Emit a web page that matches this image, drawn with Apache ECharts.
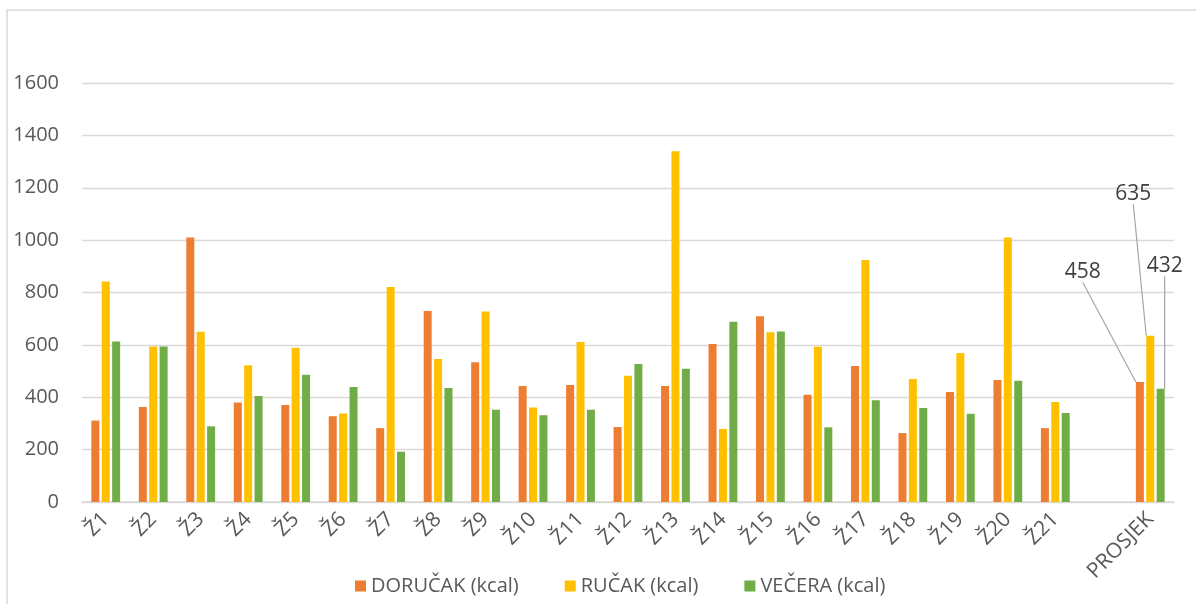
<!DOCTYPE html>
<html>
<head>
<meta charset="utf-8">
<title>Obroci kcal</title>
<script src="https://cdn.jsdelivr.net/npm/echarts@6/dist/echarts.min.js"></script>
<style>
  html, body { margin: 0; padding: 0; background: #fff; }
  #chart { width: 1196px; height: 604px; }
</style>
</head>
<body>
<div id="chart"></div>
<script>
// kategorije (prazno mjesto prije prosjeka)
const categories = ['Ž1', 'Ž2', 'Ž3', 'Ž4', 'Ž5', 'Ž6', 'Ž7', 'Ž8', 'Ž9', 'Ž10', 'Ž11',
  'Ž12', 'Ž13', 'Ž14', 'Ž15', 'Ž16', 'Ž17', 'Ž18', 'Ž19', 'Ž20', 'Ž21', '', 'PROSJEK']

const dorucak = [311, 363, 1010, 380, 370, 327, 282, 729, 534, 443, 447,
  286, 443, 603, 709, 410, 519, 263, 420, 466, 282, null, 458]
const rucak = [842, 594, 650, 522, 589, 338, 821, 546, 727, 361, 611,
  482, 1339, 279, 648, 593, 924, 470, 569, 1010, 382, null, 635]
const vecera = [613, 594, 289, 405, 486, 439, 192, 435, 352, 331, 352,
  527, 509, 688, 651, 285, 389, 359, 337, 463, 340, null, 432]

const seriesNames = ['DORUČAK (kcal)', 'RUČAK (kcal)', 'VEČERA (kcal)']
const colors = ['#ED7D31', '#FFC000', '#70AD47']
const yTicks = { min: 0, max: 1600, interval: 200 }

// pomak oznake prosjeka u odnosu na vrh stupca
const labelOffsets = [[-57, -110], [-17, -142], [4, -123]]

const font = '"Open Sans", "Noto Sans", sans-serif'
const textColor = '#595959'
const gridColor = '#d9d9d9'
const avgIndex = categories.length - 1

const chart = echarts.init(document.getElementById('chart'))

// gradi seriju, oznaka samo na prosjeku
const makeSeries = (name, values, idx) => ({
  name,
  type: 'bar',
  barWidth: 8,
  barGap: '30%',
  itemStyle: { color: colors[idx] },
  data: values.map((v, i) => i === avgIndex
    ? {
        value: v,
        label: {
          show: true,
          position: 'top',
          fontFamily: font,
          fontSize: 21,
          color: '#404040'
        },
        labelLine: { show: true, lineStyle: { color: '#a6a6a6', width: 1.2 } }
      }
    : v),
  labelLayout(p) {
    if (p.dataIndex !== avgIndex) return {}
    const off = labelOffsets[idx]
    return {
      x: p.rect.x + p.rect.width / 2 + off[0],
      y: p.rect.y + off[1],
      align: 'center',
      verticalAlign: 'middle'
    }
  }
})

const option = {
  animation: false,
  textStyle: { fontFamily: font },
  // okvir grafikona
  graphic: [{
    type: 'rect',
    shape: { x: 7, y: 10, width: 1300, height: 700 },
    style: { fill: 'none', stroke: gridColor, lineWidth: 1.5 },
    silent: true
  }],
  legend: {
    data: seriesNames,
    left: 350,
    top: 571,
    icon: 'rect',
    itemWidth: 11,
    itemHeight: 11,
    itemGap: 46,
    textStyle: { fontFamily: font, fontSize: 20, color: textColor }
  },
  grid: {
    left: 82,
    right: 22,
    top: 83,
    bottom: 102,
    containLabel: false
  },
  xAxis: {
    type: 'category',
    data: categories,
    axisTick: { show: false },
    axisLine: { lineStyle: { color: gridColor, width: 1.5 } },
    axisLabel: {
      rotate: 45,
      interval: 0,
      margin: 14,
      fontFamily: font,
      fontSize: 21,
      color: textColor
    }
  },
  yAxis: {
    type: 'value',
    min: yTicks.min,
    max: yTicks.max,
    interval: yTicks.interval,
    axisLine: { show: false },
    axisTick: { show: false },
    axisLabel: {
      margin: 23,
      fontFamily: font,
      fontSize: 20,
      color: textColor,
      formatter: v => String(v)
    },
    splitLine: { lineStyle: { color: gridColor, width: 1.3 } }
  },
  series: [
    makeSeries(seriesNames[0], dorucak, 0),
    makeSeries(seriesNames[1], rucak, 1),
    makeSeries(seriesNames[2], vecera, 2)
  ]
}

chart.setOption(option)
</script>
</body>
</html>
